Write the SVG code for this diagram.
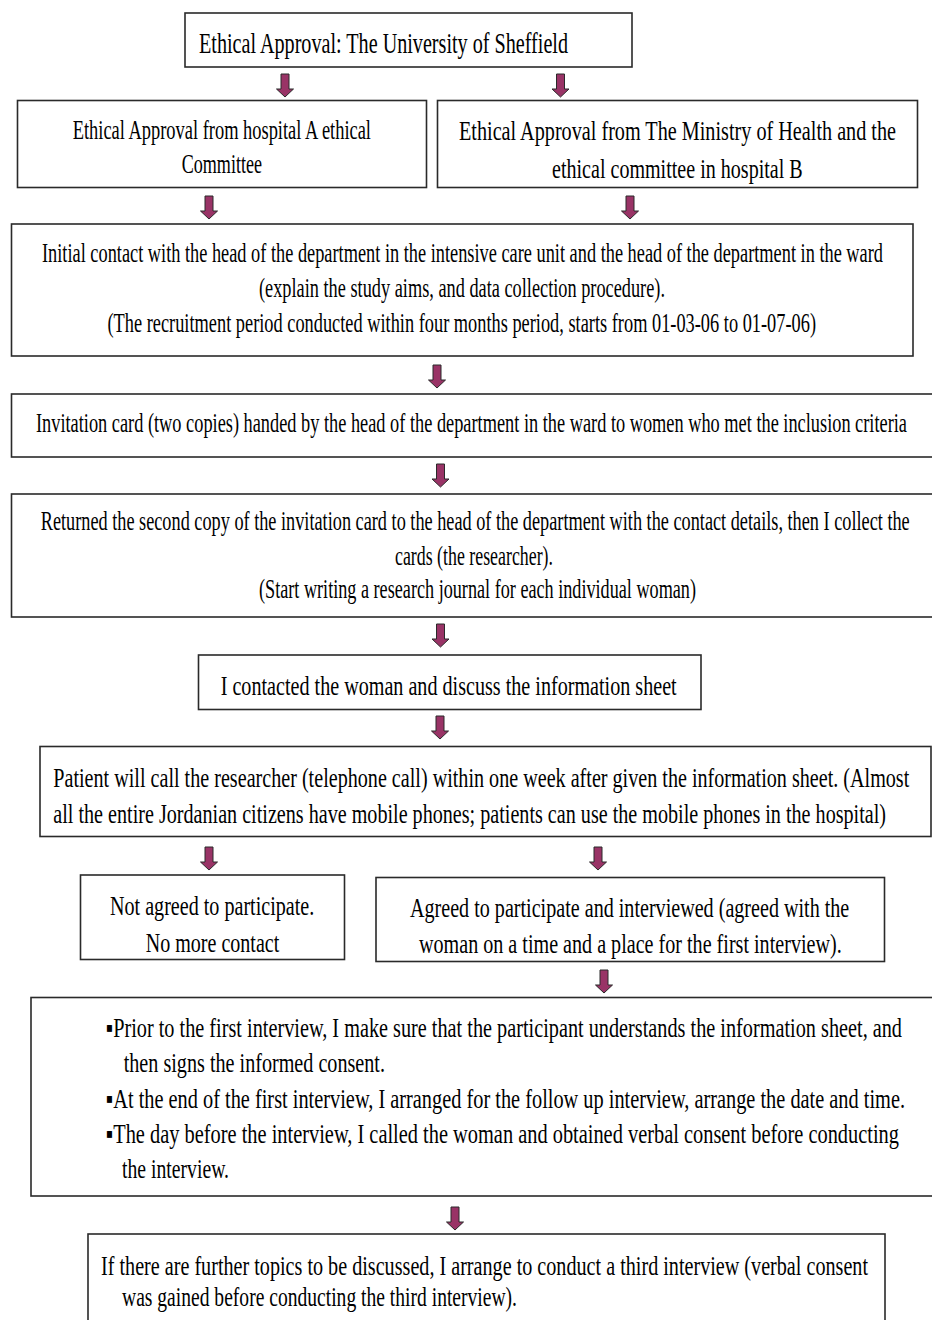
<svg xmlns="http://www.w3.org/2000/svg" xmlns:xlink="http://www.w3.org/1999/xlink" width="932" height="1320" viewBox="0 0 932 1320">
<style>
.box{fill:#fff;stroke:#2a2a2a;stroke-width:1.6}
.t{font-family:"Liberation Serif","Times New Roman",serif;font-size:19.5px;fill:#000}
.tl{font-size:21px}
.ts{font-size:17px}
.arr{fill:#993366;stroke:#2a2a2a;stroke-width:1}
</style>
<defs>
<path id="arr" d="M-4,0 H4 V15 H8.5 L0,23 L-8.5,15 H-4 Z"/>
</defs>
<rect width="932" height="1320" fill="#fff"/>
<g id="connectors">
<use xlink:href="#arr" class="arr" x="285" y="74"/>
<use xlink:href="#arr" class="arr" x="560.5" y="74"/>
<use xlink:href="#arr" class="arr" x="209" y="196"/>
<use xlink:href="#arr" class="arr" x="630" y="196"/>
<use xlink:href="#arr" class="arr" x="437" y="365"/>
<use xlink:href="#arr" class="arr" x="440.5" y="464"/>
<use xlink:href="#arr" class="arr" x="440.5" y="624"/>
<use xlink:href="#arr" class="arr" x="440" y="716"/>
<use xlink:href="#arr" class="arr" x="209" y="847"/>
<use xlink:href="#arr" class="arr" x="598" y="847"/>
<use xlink:href="#arr" class="arr" x="604" y="970"/>
<use xlink:href="#arr" class="arr" x="455" y="1207"/>
</g>
<g id="n1">
<rect class="box" x="185" y="13" width="447" height="54"/>
<text class="t tl" transform="translate(199,53) scale(1,1.43)" textLength="369" lengthAdjust="spacingAndGlyphs">Ethical Approval: The University of Sheffield</text>
</g>
<g id="n2a">
<rect class="box" x="17.5" y="100.5" width="409" height="87"/>
<text class="t" transform="translate(72.7,139) scale(1,1.41)" textLength="298.3" lengthAdjust="spacingAndGlyphs">Ethical Approval from hospital A ethical</text>
<text class="t" transform="translate(181.7,173) scale(1,1.41)" textLength="80.3" lengthAdjust="spacingAndGlyphs">Committee</text>
</g>
<g id="n2b">
<rect class="box" x="437.5" y="100.5" width="480" height="87"/>
<text class="t" transform="translate(459,140) scale(1,1.41)" textLength="437" lengthAdjust="spacingAndGlyphs">Ethical Approval from The Ministry of Health and the</text>
<text class="t" transform="translate(552,178) scale(1,1.41)" textLength="250.7" lengthAdjust="spacingAndGlyphs">ethical committee in hospital B</text>
</g>
<g id="n3">
<rect class="box" x="11.5" y="224" width="901.5" height="132"/>
<text class="t ts" transform="translate(42,262) scale(1,1.62)" textLength="841" lengthAdjust="spacingAndGlyphs">Initial contact with the head of the department in the intensive care unit and the head of the department in the ward</text>
<text class="t" transform="translate(259,297) scale(1,1.41)" textLength="406" lengthAdjust="spacingAndGlyphs">(explain the study aims, and data collection procedure).</text>
<text class="t" transform="translate(107.5,332) scale(1,1.41)" textLength="708.5" lengthAdjust="spacingAndGlyphs">(The recruitment period conducted within four months period, starts from 01-03-06 to 01-07-06)</text>
</g>
<g id="n4">
<rect class="box" x="11.5" y="394" width="924" height="63"/>
<text class="t ts" transform="translate(36,432) scale(1,1.62)" textLength="871" lengthAdjust="spacingAndGlyphs">Invitation card (two copies) handed by the head of the department in the ward to women who met the inclusion criteria</text>
</g>
<g id="n5">
<rect class="box" x="11.5" y="494" width="924" height="123"/>
<text class="t ts" transform="translate(40.7,530) scale(1,1.62)" textLength="869" lengthAdjust="spacingAndGlyphs">Returned the second copy of the invitation card to the head of the department with the contact details, then I collect the</text>
<text class="t" transform="translate(395,565) scale(1,1.41)" textLength="158" lengthAdjust="spacingAndGlyphs">cards (the researcher).</text>
<text class="t" transform="translate(259,598) scale(1,1.41)" textLength="437" lengthAdjust="spacingAndGlyphs">(Start writing a research journal for each individual woman)</text>
</g>
<g id="n6">
<rect class="box" x="198.5" y="655" width="502.5" height="54.5"/>
<text class="t" transform="translate(220.7,695) scale(1,1.41)" textLength="456" lengthAdjust="spacingAndGlyphs">I contacted the woman and discuss the information sheet</text>
</g>
<g id="n7">
<rect class="box" x="40" y="746.5" width="891" height="90"/>
<text class="t" transform="translate(53.3,786.7) scale(1,1.41)" textLength="856" lengthAdjust="spacingAndGlyphs">Patient will call the researcher (telephone call) within one week after given the information sheet. (Almost</text>
<text class="t" transform="translate(53.3,823.3) scale(1,1.41)" textLength="832.7" lengthAdjust="spacingAndGlyphs">all the entire Jordanian citizens have mobile phones; patients can use the mobile phones in the hospital)</text>
</g>
<g id="n8a">
<rect class="box" x="80.5" y="875" width="264" height="84.5"/>
<text class="t" transform="translate(110,915) scale(1,1.41)" textLength="204.3" lengthAdjust="spacingAndGlyphs">Not agreed to participate.</text>
<text class="t" transform="translate(145.7,951.7) scale(1,1.41)" textLength="133.6" lengthAdjust="spacingAndGlyphs">No more contact</text>
</g>
<g id="n8b">
<rect class="box" x="376" y="877.5" width="508.5" height="84"/>
<text class="t" transform="translate(410,916.7) scale(1,1.41)" textLength="439.3" lengthAdjust="spacingAndGlyphs">Agreed to participate and interviewed (agreed with the</text>
<text class="t" transform="translate(419,953.3) scale(1,1.41)" textLength="422.7" lengthAdjust="spacingAndGlyphs">woman on a time and a place for the first interview).</text>
</g>
<g id="n9">
<rect class="box" x="31" y="997.5" width="904" height="198.5"/>
<text class="t" transform="translate(106,1037) scale(1,1.41)" textLength="796" lengthAdjust="spacingAndGlyphs">▪Prior to the first interview, I make sure that the participant understands the information sheet, and</text>
<text class="t" transform="translate(123.7,1072) scale(1,1.41)" textLength="261.3" lengthAdjust="spacingAndGlyphs">then signs the informed consent.</text>
<text class="t" transform="translate(106,1108) scale(1,1.41)" textLength="799" lengthAdjust="spacingAndGlyphs">▪At the end of the first interview, I arranged for the follow up interview, arrange the date and time.</text>
<text class="t" transform="translate(106,1143) scale(1,1.41)" textLength="793" lengthAdjust="spacingAndGlyphs">▪The day before the interview, I called the woman and obtained verbal consent before conducting</text>
<text class="t" transform="translate(122,1178) scale(1,1.41)" textLength="107" lengthAdjust="spacingAndGlyphs">the interview.</text>
</g>
<g id="n10">
<rect class="box" x="88" y="1234" width="797" height="100"/>
<text class="t" transform="translate(101,1275) scale(1,1.41)" textLength="767" lengthAdjust="spacingAndGlyphs">If there are further topics to be discussed, I arrange to conduct a third interview (verbal consent</text>
<text class="t" transform="translate(122,1306) scale(1,1.41)" textLength="395" lengthAdjust="spacingAndGlyphs">was gained before conducting the third interview).</text>
</g>
</svg>
